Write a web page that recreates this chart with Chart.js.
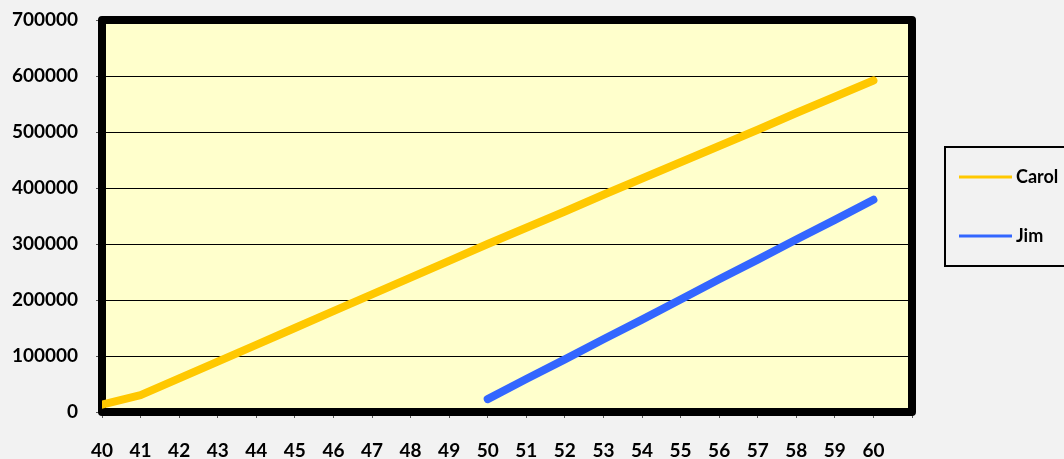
<!DOCTYPE html>
<html>
<head>
<meta charset="utf-8">
<script src="https://cdn.jsdelivr.net/npm/chart.js@4/dist/chart.umd.min.js"></script>
<style>
  html, body { margin: 0; padding: 0; background: #F2F2F2; }
  #wrap { width: 1064px; height: 459px; position: relative; }
</style>
</head>
<body>
<div id="wrap"><canvas id="c" width="1064" height="459"></canvas></div>
<script>
// Ages along the horizontal axis
const ages = [40, 41, 42, 43, 44, 45, 46, 47, 48, 49, 50, 51, 52, 53, 54, 55, 56, 57, 58, 59, 60];
// Balance by age for each person (null = not started yet)
const carol = [13000, 30000, 60000, 90000, 120000, 150000, 180000, 210000, 240000, 270000, 300000,
               329000, 358000, 388000, 417000, 446000, 475000, 504000, 534000, 563000, 592000];
const jim = [null, null, null, null, null, null, null, null, null, null, 23000,
             59000, 94000, 130000, 165000, 201000, 237000, 272000, 308000, 343000, 379000];
const seriesNames = ['Carol', 'Jim'];
const seriesColors = ['#FFC800', '#3366FF'];
const yTicks = [0, 100000, 200000, 300000, 400000, 500000, 600000, 700000];

const FONT = { family: 'Lato', size: 19, weight: 'bold' };

function toPoints(values) {
  return ages.map((a, i) => ({ x: a, y: values[i] }));
}

// Yellow plot background and heavy rounded frame around the plot area
const plotFrame = {
  id: 'plotFrame',
  beforeDraw(chart) {
    const { ctx, chartArea: a } = chart;
    ctx.save();
    ctx.fillStyle = '#FFFFCC';
    ctx.fillRect(a.left, a.top, a.right - a.left, a.bottom - a.top);
    ctx.restore();
  },
  beforeDatasetsDraw(chart) {
    const { ctx, chartArea: a } = chart;
    ctx.save();
    ctx.strokeStyle = '#000';
    ctx.lineWidth = 8;
    ctx.lineJoin = 'round';
    ctx.strokeRect(a.left, a.top, a.right - a.left, a.bottom - a.top);
    ctx.restore();
  }
};

// Boxed legend on the right
const boxLegend = {
  id: 'boxLegend',
  afterDraw(chart) {
    const { ctx } = chart;
    ctx.save();
    ctx.strokeStyle = '#000';
    ctx.lineWidth = 2;
    ctx.strokeRect(945, 147, 140, 119);
    const rows = [177, 236];
    chart.data.datasets.forEach((ds, i) => {
      const y = rows[i];
      ctx.strokeStyle = ds.borderColor;
      ctx.lineWidth = 3;
      ctx.lineCap = 'butt';
      ctx.beginPath();
      ctx.moveTo(959, y);
      ctx.lineTo(1012, y);
      ctx.stroke();
      ctx.fillStyle = '#000';
      ctx.font = 'bold 18px Lato';
      ctx.textAlign = 'left';
      ctx.textBaseline = 'middle';
      ctx.fillText(ds.label, 1016, y);
    });
    ctx.restore();
  }
};

new Chart(document.getElementById('c'), {
  type: 'line',
  data: {
    datasets: [
      { label: seriesNames[0], data: toPoints(carol), borderColor: seriesColors[0] },
      { label: seriesNames[1], data: toPoints(jim), borderColor: seriesColors[1] }
    ]
  },
  options: {
    responsive: false,
    animation: false,
    layout: { padding: { top: 20, right: 152, bottom: 0, left: 0 } },
    elements: {
      line: { borderWidth: 8, tension: 0, borderCapStyle: 'round', borderJoinStyle: 'round', fill: false },
      point: { radius: 0, hoverRadius: 0 }
    },
    spanGaps: false,
    plugins: { legend: { display: false }, tooltip: { enabled: false } },
    scales: {
      x: {
        type: 'linear',
        min: 40,
        max: 61,
        border: { display: false },
        grid: { drawOnChartArea: false, tickLength: 6, tickColor: '#595959', drawTicks: true },
        ticks: {
          stepSize: 1,
          autoSkip: false,
          maxRotation: 0,
          padding: 21,
          color: '#000',
          font: FONT,
          callback: v => (v <= 60 ? String(v) : '')
        },
        afterFit(s) { s.height = 47; s.paddingLeft = 0; s.paddingRight = 0; }
      },
      y: {
        min: 0,
        max: 700000,
        border: { display: false },
        grid: { color: '#000', lineWidth: 1, tickLength: 6, tickColor: '#595959' },
        afterBuildTicks(s) { s.ticks = yTicks.map(v => ({ value: v })); },
        ticks: {
          padding: 18,
          color: '#000',
          font: FONT,
          callback: v => String(v)
        },
        afterFit(s) { s.width = 102; s.paddingTop = 0; s.paddingBottom = 0; }
      }
    }
  },
  plugins: [plotFrame, boxLegend]
});
</script>
</body>
</html>
